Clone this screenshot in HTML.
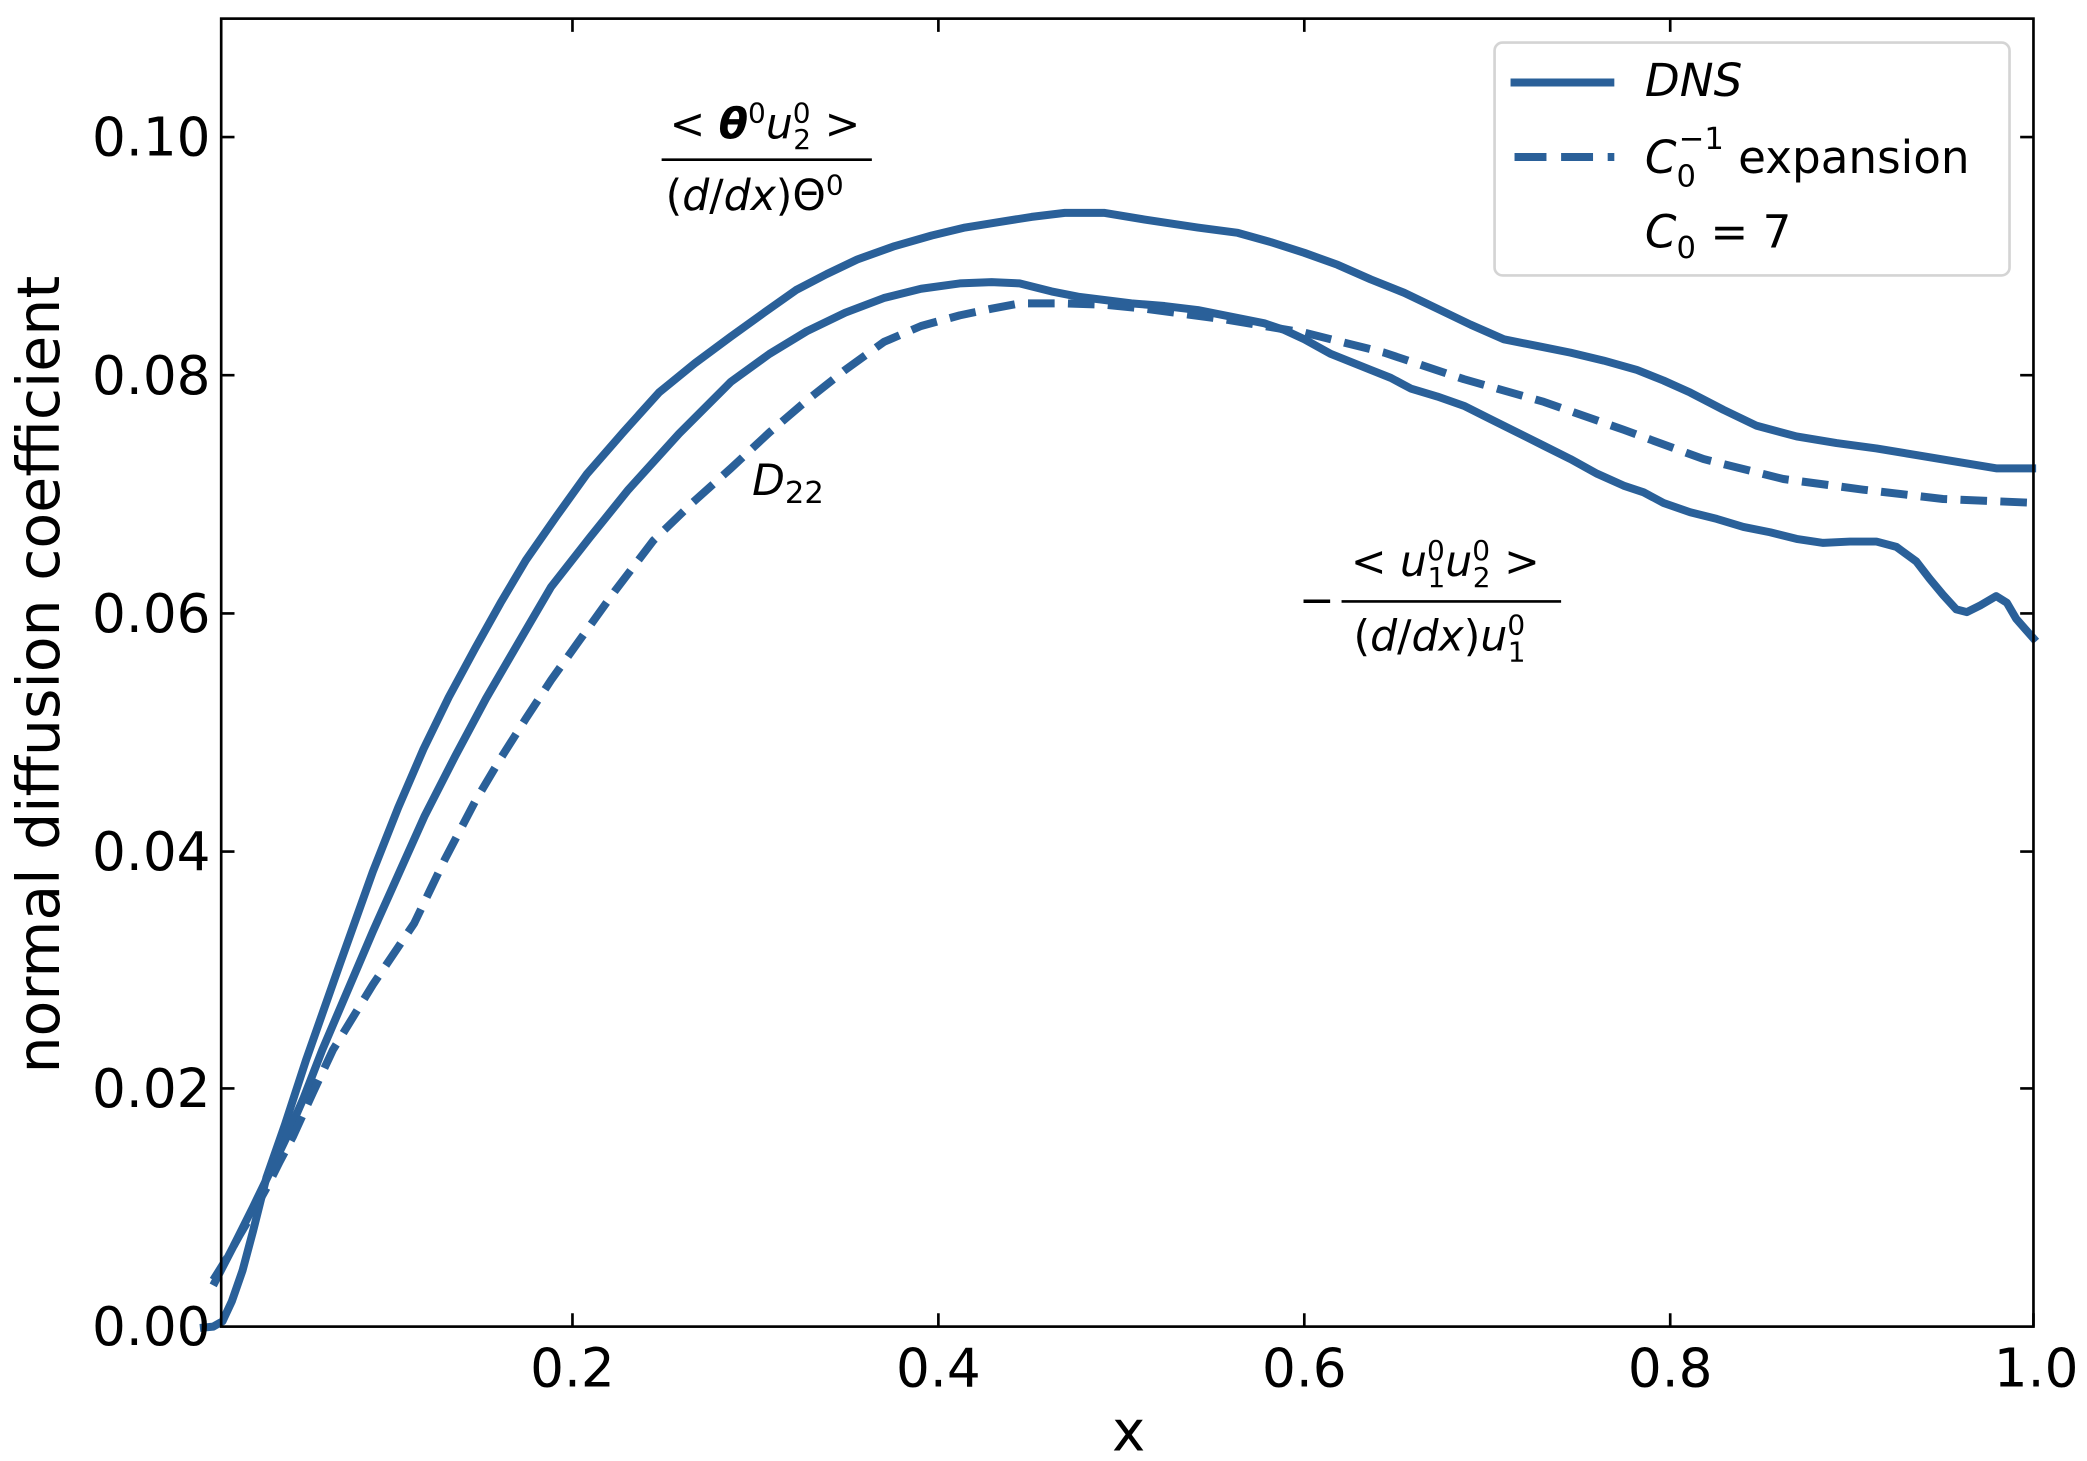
<!DOCTYPE html>
<html><head><meta charset="utf-8"><style>html,body{margin:0;padding:0;background:#fff}svg{display:block}</style></head><body>
<svg width="2087" height="1461" viewBox="0 0 1568 1098" xmlns="http://www.w3.org/2000/svg" font-family="DejaVu Sans, Liberation Sans, sans-serif">
<rect width="1568" height="1098" fill="#fff"/>
<defs><clipPath id="c"><rect x="148" y="14" width="1390" height="990"/></clipPath></defs>
<g clip-path="url(#c)" fill="none" stroke="#2a6099" stroke-width="6" stroke-linejoin="round" stroke-linecap="butt">
<polyline points="150,998 160,997 167,993 174,978 182,955 190,925 200,885 214,845 230,796 255,725 280,655 299,607 318,563 337,524 357,487 376,453 395,421 418,388 441,356 468,325 495,295 522,273 549,253 574,235 598,218 621,206 644,195 672,185 700,177 725,171 750,167 775,163 800,160 830,160 860,165 900,171 930,175 955,182 980,190 1005,199 1030,210 1055,220 1080,232 1105,244 1130,255 1155,260 1180,265 1205,271 1230,278 1250,286 1270,295 1295,308 1320,320 1350,328 1380,333 1410,337 1440,342 1470,347 1500,352 1530,352"/>
<polyline points="160,966 175,937 190,907 205,876 215,855 228,825 242,789 280,700 319,613 342,568 365,525 390,482 414,441 443,404 472,368 510,326 549,287 578,266 606,249 635,235 664,224 692,217 721,213 745,212 766,213 790,219 810,223 850,228 875,230 900,233 925,238 950,243 965,248 980,255 1000,266 1015,272 1030,278 1045,284 1060,292 1080,298 1100,305 1120,315 1140,325 1160,335 1180,345 1200,356 1220,365 1235,370 1250,378 1270,385 1290,390 1310,396 1330,400 1350,405 1370,408 1390,407 1410,407 1425,411 1440,422 1450,435 1460,447 1470,458 1478,460 1488,455 1500,448 1508,453 1515,465 1522,473 1530,482"/>
<polyline stroke-dasharray="20,10" points="160,962 170,946 180,928 190,911 200,893 210,873 220,854 235,821 250,789 280,740 311,694 334,646 357,602 376,570 395,540 414,511 434,483 462,444 491,406 520,378 549,352 578,325 606,301 635,278 664,257 692,245 721,237 745,232 766,228 800,228 830,229 860,232 920,240 980,250 1040,265 1100,285 1160,302 1220,323 1280,345 1340,360 1400,368 1460,375 1530,378"/>
</g>
<g stroke="#000" stroke-width="2" fill="none">
<rect x="166" y="14" width="1362" height="983"/>
<path d="M430,997v-10M705,997v-10M980,997v-10M1255,997v-10M1528,997v-10M430,14v10M705,14v10M980,14v10M1255,14v10M166,818h10M166,640h10M166,461h10M166,282h10M166,103h10M1528,818h-10M1528,640h-10M1528,461h-10M1528,282h-10M1528,103h-10"/>
</g>
<g font-size="40" fill="#000" text-anchor="end">
<text x="158" y="1011">0.00</text><text x="158" y="832">0.02</text><text x="158" y="654">0.04</text><text x="158" y="475">0.06</text><text x="158" y="296">0.08</text><text x="158" y="117">0.10</text>
</g>
<g font-size="40" fill="#000" text-anchor="middle">
<text x="430" y="1042">0.2</text><text x="705" y="1042">0.4</text><text x="980" y="1042">0.6</text><text x="1255" y="1042">0.8</text><text x="1530" y="1042">1.0</text>
<text x="848" y="1090" font-size="42">x</text>
<text transform="translate(44,507) rotate(-90)" font-size="44">normal diffusion coefficient</text>
</g>
<rect x="1123" y="32" width="387" height="175" rx="6" fill="#fff" stroke="#d4d4d4" stroke-width="2"/>
<line x1="1135" y1="62" x2="1213" y2="62" stroke="#2a6099" stroke-width="6"/>
<line x1="1138" y1="118" x2="1213" y2="118" stroke="#2a6099" stroke-width="6" stroke-dasharray="24,11"/>
<g font-size="34" fill="#000">
<text x="1236" y="72" font-style="italic">DNS</text>
<text x="1236" y="130"><tspan font-style="italic">C</tspan><tspan font-size="23" dy="10">0</tspan><tspan font-size="23" dy="-28" dx="-13">−1</tspan><tspan dy="18"> expansion</tspan></text>
<text x="1236" y="186"><tspan font-style="italic">C</tspan><tspan font-size="23" dy="8">0</tspan><tspan dy="-8"> = 7</tspan></text>
</g>
<g font-size="32" fill="#000">
<text x="503" y="104">&lt; <tspan font-style="italic" font-weight="bold">θ</tspan><tspan font-size="21" dy="-12">0</tspan><tspan font-style="italic" dy="12">u</tspan><tspan font-size="21" dy="-12">0</tspan><tspan font-size="21" dx="-13" dy="20">2</tspan><tspan dy="-8"> &gt;</tspan></text>
<line x1="497" y1="120" x2="655" y2="120" stroke="#000" stroke-width="2"/>
<text x="500" y="158">(<tspan font-style="italic">d</tspan>/<tspan font-style="italic">dx</tspan>)Θ<tspan font-size="21" dy="-12">0</tspan></text>
<text x="565" y="372"><tspan font-style="italic">D</tspan><tspan font-size="23" dy="6">22</tspan></text>
<text x="976" y="462">−</text>
<text x="1015" y="433">&lt; <tspan font-style="italic">u</tspan><tspan font-size="21" dy="-12">0</tspan><tspan font-size="21" dx="-13" dy="20">1</tspan><tspan font-style="italic" dy="-8">u</tspan><tspan font-size="21" dy="-12">0</tspan><tspan font-size="21" dx="-13" dy="20">2</tspan><tspan dy="-8"> &gt;</tspan></text>
<line x1="1008" y1="452" x2="1173" y2="452" stroke="#000" stroke-width="2"/>
<text x="1017" y="489">(<tspan font-style="italic">d</tspan>/<tspan font-style="italic">dx</tspan>)<tspan font-style="italic">u</tspan><tspan font-size="21" dy="-12">0</tspan><tspan font-size="21" dx="-13" dy="20">1</tspan></text>
</g>
</svg>
</body></html>
